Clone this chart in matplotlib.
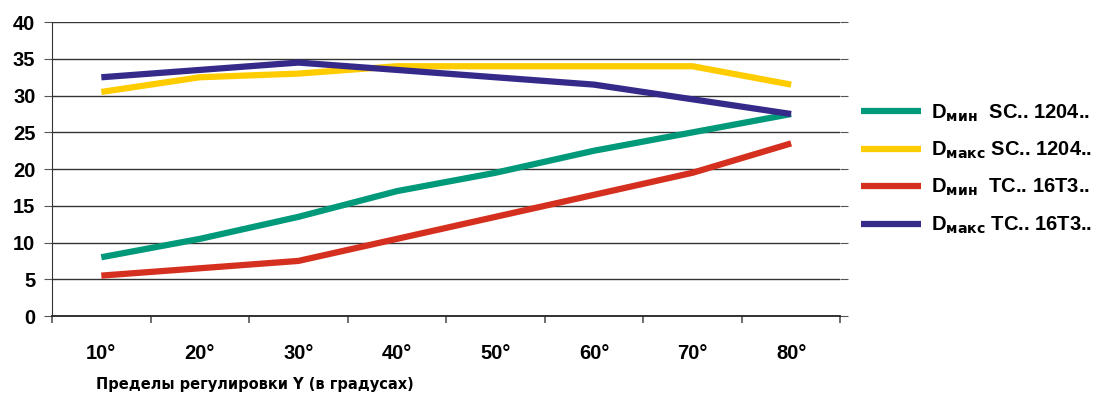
import numpy as np
import matplotlib
matplotlib.use("Agg")
import matplotlib.pyplot as plt

plt.rcParams['font.family'] = ['Liberation Sans', 'DejaVu Sans']
plt.rcParams['font.weight'] = 'bold'

categories = ["10°", "20°", "30°", "40°", "50°", "60°", "70°", "80°"]
d_min_sc = [8, 10.5, 13.5, 17, 19.5, 22.5, 25, 27.5]
d_max_sc = [30.5, 32.5, 33, 34, 34, 34, 34, 31.5]
d_min_tc = [5.5, 6.5, 7.5, 10.5, 13.5, 16.5, 19.5, 23.5]
d_max_tc = [32.5, 33.5, 34.5, 33.5, 32.5, 31.5, 29.5, 27.5]

labels = [r"D$_{\mathbf{мин}}$  SC.. 1204..",
          r"D$_{\mathbf{макс}}$ SC.. 1204..",
          r"D$_{\mathbf{мин}}$  TC.. 16T3..",
          r"D$_{\mathbf{макс}}$ TC.. 16T3.."]
colors = ["#00997a", "#ffcc00", "#d42f1f", "#35298a"]

fig = plt.figure(figsize=(10.98, 3.96), dpi=100)
ax = fig.add_axes([0.0474, 0.202, 0.718, 0.742])

x = np.arange(len(categories))
for s, lab, c in zip([d_min_sc, d_max_sc, d_min_tc, d_max_tc], labels, colors):
    ax.plot(x, s, color=c, lw=4.5, label=lab, solid_capstyle='butt')

ax.set_xlim(-0.5, len(categories) - 0.5)
ax.set_ylim(0, 40)
ax.set_yticks(range(0, 41, 5))
ax.yaxis.grid(True, color="#333333", lw=1)
ax.set_axisbelow(True)

ax.set_xticks(np.arange(-0.5, len(categories)), labels=[])
ax.set_xticks(x, labels=categories, minor=True)
ax.tick_params(axis='x', which='major', length=5, color="#555555", width=1.2)
ax.tick_params(axis='x', which='minor', length=0, pad=20, labelsize=14.5)
ax.tick_params(axis='y', length=6, labelsize=14.5, pad=6, right=True, color="#555555")

for side in ['top', 'right']:
    ax.spines[side].set_visible(False)
ax.spines['left'].set_color("#333333")
ax.spines['bottom'].set_color("#222222")
ax.spines['bottom'].set_linewidth(1.3)

fig.text(0.087, 0.018, "Пределы регулировки Y (в градусах)", fontsize=10.5,
         fontweight='bold', family=['DejaVu Sans'])

leg = ax.legend(loc='center left', bbox_to_anchor=(1.003, 0.5), frameon=False,
                prop={'size': 14.5, 'weight': 'bold'}, handlelength=3.0,
                labelspacing=0.8, handletextpad=0.5)

fig.savefig("out.png", dpi=100)
